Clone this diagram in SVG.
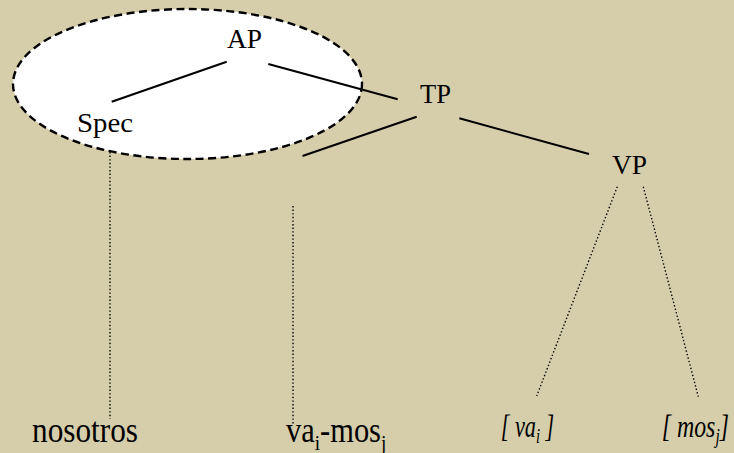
<svg xmlns="http://www.w3.org/2000/svg" width="734" height="453" viewBox="0 0 734 453">
<style>
.solid{stroke:#000;stroke-width:2;fill:none}
.dot{stroke:#000;stroke-width:1.4;stroke-dasharray:1.4 2.2;fill:none}
</style>
<rect width="734" height="453" fill="#D6CEAA"/>
<g id="ellipse-AP">
<ellipse cx="187.5" cy="84" rx="174.5" ry="75" fill="#FFFFFF" stroke="#000" stroke-width="2.4" stroke-dasharray="8 4.5"/>
</g>
<g id="connectors">
<line class="solid" x1="226.7" y1="61.7" x2="111.7" y2="101.7"/>
<line class="solid" x1="268.3" y1="64" x2="397.7" y2="99.3"/>
<line class="solid" x1="416.7" y1="116.7" x2="302.5" y2="156"/>
<line class="solid" x1="459.3" y1="118.3" x2="589" y2="154"/>
<line class="dot" x1="110" y1="152" x2="110" y2="419"/>
<line class="dot" x1="293" y1="206" x2="293" y2="425"/>
<line class="dot" x1="617.3" y1="186.7" x2="536.7" y2="396"/>
<line class="dot" x1="643.3" y1="186.7" x2="698.3" y2="396.7"/>
</g>
<g id="node-AP"><text font-family="Liberation Serif" x="227" y="48" font-size="28" textLength="35" lengthAdjust="spacingAndGlyphs">AP</text></g>
<g id="node-Spec"><text font-family="Liberation Serif" x="77" y="132" font-size="28" textLength="56" lengthAdjust="spacingAndGlyphs">Spec</text></g>
<g id="node-TP"><text font-family="Liberation Serif" x="420" y="103" font-size="28" textLength="31" lengthAdjust="spacingAndGlyphs">TP</text></g>
<g id="node-VP"><text font-family="Liberation Serif" x="612" y="174" font-size="28" textLength="35" lengthAdjust="spacingAndGlyphs">VP</text></g>
<g id="node-nosotros"><text font-family="Liberation Serif" x="32" y="442" font-size="35" textLength="106" lengthAdjust="spacingAndGlyphs">nosotros</text></g>
<g id="node-vamos"><text font-family="Liberation Serif" transform="translate(286,442) scale(0.87,1)" font-size="35">va<tspan font-size="22" dy="8">i</tspan><tspan dy="-8">-mos</tspan><tspan font-size="22" dy="8">j</tspan></text></g>
<g id="node-va"><text font-family="Liberation Serif" transform="translate(500.7,437) scale(0.72,1)" font-size="31" font-style="italic">[ va<tspan font-size="20" dy="6">i</tspan><tspan dy="-6"> ]</tspan></text></g>
<g id="node-mos"><text font-family="Liberation Serif" transform="translate(661.7,437) scale(0.77,1)" font-size="31" font-style="italic">[ mos<tspan font-size="20" dy="6">j</tspan><tspan dy="-6">]</tspan></text></g>
</svg>
